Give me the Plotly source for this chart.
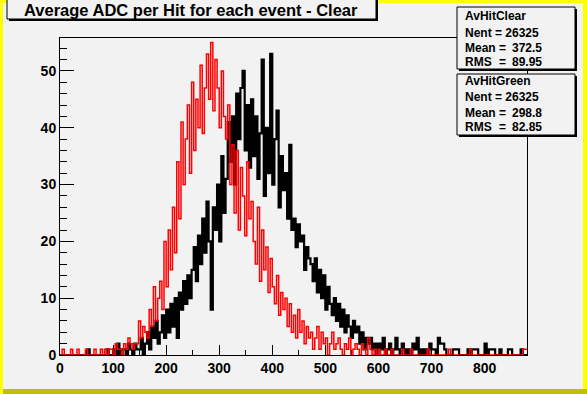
import plotly.graph_objects as go

# ---------------- data ----------------
BIN_WIDTH = 4
X_MIN, X_MAX = 0, 880
Y_MAX = 55.8

# AvHitClear (black) counts per bin, bins start at 0, 4, 8, ... 876
clear_counts = [
    0, 0, 0, 0, 0, 0, 0, 0, 0, 0,
    0, 0, 0, 1, 0, 0, 0, 0, 0, 0,
    0, 0, 1, 0, 0, 1, 0, 2, 0, 1,
    1, 0, 2, 1, 0, 2, 1, 1, 3, 0,
    2, 4, 1, 5, 3, 6, 2, 4, 7, 3,
    8, 4, 9, 5, 10, 3, 11, 8, 13, 9,
    14, 10, 15, 19, 13, 21, 16, 24, 18, 27,
    20, 8, 26, 22, 30, 20, 35, 25, 31, 41,
    34, 42, 30, 46, 38, 47, 50, 36, 44, 33,
    45, 35, 42, 31, 39, 52, 28, 40, 32, 53,
    30, 38, 43, 26, 35, 29, 32, 24, 37, 22,
    24, 19, 23, 20, 21, 15, 19, 17, 16, 13,
    17, 11, 15, 10, 14, 8, 12, 9, 7, 10,
    6, 9, 5, 8, 4, 7, 5, 3, 6, 4,
    5, 2, 4, 1, 3, 2, 3, 1, 2, 0,
    2, 1, 3, 0, 1, 2, 0, 1, 3, 1,
    0, 2, 1, 0, 1, 0, 2, 1, 3, 0,
    1, 0, 1, 0, 2, 1, 1, 0, 3, 2,
    2, 1, 0, 0, 0, 1, 1, 1, 0, 0,
    0, 0, 1, 0, 1, 1, 1, 0, 0, 0,
    2, 0, 1, 1, 1, 0, 0, 1, 0, 0,
    0, 1, 1, 0, 0, 0, 0, 1, 0, 0,
]

# AvHitGreen (red) counts per bin
green_counts = [
    0, 1, 0, 0, 0, 1, 0, 0, 1, 0,
    0, 0, 1, 0, 0, 0, 1, 0, 0, 1,
    0, 1, 0, 1, 1, 0, 2, 1, 1, 0,
    2, 1, 3, 2, 1, 2, 2, 6, 3, 5,
    4, 3, 8, 5, 12, 6, 10, 13, 8, 20,
    12, 22, 15, 26, 18, 34, 24, 41, 30, 38,
    44, 32, 48, 36, 45, 40, 51, 39, 47, 53,
    45, 55, 43, 52, 47, 40, 50, 42, 38, 44,
    30, 37, 25, 36, 22, 33, 28, 21, 34, 24,
    27, 20, 16, 26, 13, 22, 15, 19, 11, 17,
    12, 9, 14, 7, 11, 8, 10, 5, 9, 4,
    7, 3, 8, 4, 6, 2, 5, 3, 4, 1,
    3, 5, 1, 4, 2, 3, 0, 2, 4, 1,
    2, 3, 1, 0, 2, 1, 3, 0, 1, 2,
    1, 0, 2, 1, 0, 3, 1, 0, 1, 0,
    1, 0, 0, 1, 0, 0, 1, 0, 0, 0,
    0, 1, 0, 0, 0, 1, 0, 0, 0, 0,
    0, 0, 0, 1, 0, 0, 0, 0, 0, 0,
    0, 0, 0, 1, 0, 0, 0, 0, 0, 0,
    0, 0, 0, 1, 0, 0, 0, 0, 0, 0,
    0, 0, 0, 0, 0, 0, 0, 0, 0, 0,
    0, 0, 0, 0, 0, 0, 0, 0, 1, 1,
]

title_text = "Average ADC per Hit for each event - Clear"
stats = [
    {"name": "AvHitClear", "nent": "26325", "mean": "372.5", "rms": "89.95"},
    {"name": "AvHitGreen", "nent": "26325", "mean": "298.8", "rms": "82.85"},
]

# ---------------- figure ----------------
W, H = 587, 394
BG = "#f2f2f2"
FONT = "Liberation Sans"

def px(x):
    return x / W

def py(y):
    return 1 - y / H

edges = [X_MIN + i * BIN_WIDTH for i in range(len(clear_counts) + 1)]

fig = go.Figure()
fig.add_trace(go.Scatter(
    x=edges, y=clear_counts + [clear_counts[-1]], mode="lines",
    line=dict(color="black", width=2.2, shape="hv"), showlegend=False, hoverinfo="skip"))
fig.add_trace(go.Scatter(
    x=edges, y=green_counts + [green_counts[-1]], mode="lines",
    line=dict(color="red", width=1.5, shape="hv"), showlegend=False, hoverinfo="skip"))

tickfont = dict(family=FONT, size=14, color="black", weight="bold")
fig.update_layout(
    width=W, height=H,
    margin=dict(l=0, r=0, t=0, b=0),
    paper_bgcolor=BG, plot_bgcolor=BG,
    xaxis=dict(domain=[px(60), px(527)], range=[X_MIN, X_MAX], showgrid=False, zeroline=False,
               showline=True, linecolor="black", linewidth=1, mirror=True,
               ticks="inside", ticklen=10, tickcolor="black", dtick=100, tick0=0,
               minor=dict(dtick=50, ticks="inside", ticklen=5, tickcolor="black"),
               tickfont=tickfont, layer="below traces", automargin=False),
    yaxis=dict(domain=[1 - 355 / H, 1 - 38 / H], range=[0, Y_MAX], showgrid=False, zeroline=False,
               showline=True, linecolor="black", linewidth=1, mirror=True,
               ticks="inside", ticklen=14, tickcolor="black", dtick=10, tick0=0,
               minor=dict(dtick=2, ticks="inside", ticklen=7, tickcolor="black"),
               tickfont=tickfont, layer="below traces", automargin=False),
)

shapes = []
# canvas border
shapes.append(dict(type="rect", xref="paper", yref="paper", x0=0, x1=px(3), y0=0, y1=1,
                   fillcolor="#ffff00", line=dict(width=0)))
shapes.append(dict(type="rect", xref="paper", yref="paper", x0=0, x1=1, y0=py(3), y1=1,
                   fillcolor="#ffff00", line=dict(width=0)))
shapes.append(dict(type="rect", xref="paper", yref="paper", x0=px(583), x1=1, y0=0, y1=1,
                   fillcolor="#ffff00", line=dict(width=0)))
shapes.append(dict(type="rect", xref="paper", yref="paper", x0=px(3), x1=1, y0=0, y1=py(389),
                   fillcolor="#c0c000", line=dict(width=0)))

def box(x0, y0, x1, y1):
    shapes.append(dict(type="rect", xref="paper", yref="paper",
                       x0=px(x0 + 2), x1=px(x1 + 2), y0=py(y1 + 2), y1=py(y0 + 2),
                       fillcolor="black", line=dict(width=0)))
    shapes.append(dict(type="rect", xref="paper", yref="paper",
                       x0=px(x0), x1=px(x1), y0=py(y1), y1=py(y0),
                       fillcolor=BG, line=dict(color="black", width=1)))

box(7, -4, 376, 19)
box(457, 7, 575, 69)
box(457, 74, 575, 135)
fig.update_layout(shapes=shapes)

ann = []
def text(x, y, s, size=12, anchor="left"):
    ann.append(dict(xref="paper", yref="paper", x=px(x), y=py(y), text=s, showarrow=False,
                    xanchor=anchor, yanchor="middle",
                    font=dict(family=FONT, size=size, color="black", weight="bold")))

text(22, 10, title_text, size=16.5)
rows = [(16, 32.5, 48.5, 62), (81, 97.5, 113, 127)]
for st, (yn, ye, ym, yr) in zip(stats, rows):
    text(463, yn, st["name"])
    text(463, ye, "Nent = " + st["nent"])
    text(463, ym, "Mean")
    text(502, ym, "=", anchor="center")
    text(544, ym, st["mean"], anchor="right")
    text(463, yr, "RMS")
    text(502, yr, "=", anchor="center")
    text(544, yr, st["rms"], anchor="right")
fig.update_layout(annotations=ann)

fig.write_html("out.html", config={"displayModeBar": False, "staticPlot": True},
               post_script="document.body.style.margin='0px';document.body.style.overflow='hidden';")
